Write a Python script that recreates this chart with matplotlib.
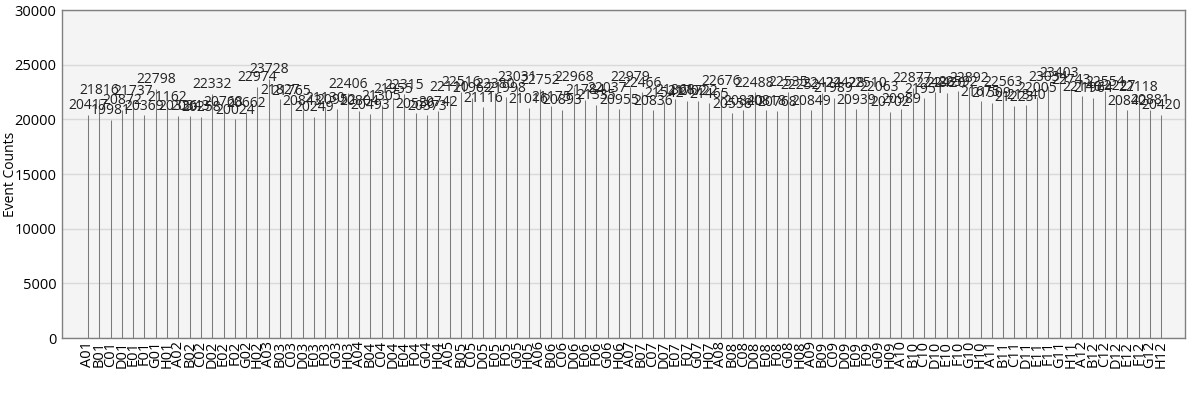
import matplotlib
matplotlib.use("Agg")
import matplotlib.pyplot as plt

wells = [f"{r}{c:02d}" for c in range(1, 13) for r in "ABCDEFGH"]
counts = [
    20417, 21816, 19981, 20872, 21737, 20369, 22798, 21162,
    20336, 20343, 20258, 22332, 20768, 20024, 20662, 22974,
    23728, 21827, 21765, 20843, 20249, 21130, 20952, 22406,
    20804, 20493, 21305, 21955, 22315, 20556, 20373, 20742,
    22110, 22516, 21962, 21116, 22380, 21998, 23031, 21016,
    22752, 21175, 20893, 22968, 21784, 21335, 22037, 20955,
    22979, 22466, 20836, 21542, 21868, 21702, 21722, 21465,
    22676, 20558, 20840, 22488, 20818, 20768, 22535, 22252,
    20849, 22424, 21989, 22428, 20939, 22510, 22063, 20702,
    20989, 22877, 21951, 22486, 22420, 22592, 22892, 21675,
    21509, 22563, 21223, 21340, 22005, 23034, 23403, 22743,
    22140, 21964, 22554, 22227, 20842, 22118, 20881, 20420,
]

plt.rcParams['font.family'] = ['Open Sans', 'DejaVu Sans']
fig = plt.figure(figsize=(12, 3.93), dpi=100)
ax = fig.add_axes([62/1200, 1-338/393, (1185-62)/1200, (338-10)/393])
ax.set_facecolor('#f4f4f4')
x = list(range(len(wells)))
ax.vlines(x, 0, counts, colors='#7a7a7a', linewidth=0.75, zorder=3, snap=True)
for xi, v in zip(x, counts):
    ax.annotate(str(v), (xi, v), xytext=(0, 1), textcoords='offset points',
                ha='center', va='bottom', fontsize=10, color='#222222', zorder=4)
ax.set_xlim(-2.3, 97.1)
ax.set_ylim(0, 30000)
ax.set_yticks(range(0, 30001, 5000))
ax.set_xticks(x)
ax.set_xticklabels(wells, rotation=90, fontsize=10.5)
ax.tick_params(axis='x', length=0, pad=2)
ax.tick_params(axis='y', length=0, labelsize=10.5, pad=4)
ax.grid(axis='y', color='#d9d9d9', linewidth=1, zorder=0)
ax.set_axisbelow(True)
for s in ax.spines.values():
    s.set_color('#808080')
    s.set_linewidth(1)
ax.set_ylabel('Event Counts', fontsize=10)
ax.yaxis.set_label_coords(-0.039, 0.5)
fig.savefig('out.png', dpi=100)
